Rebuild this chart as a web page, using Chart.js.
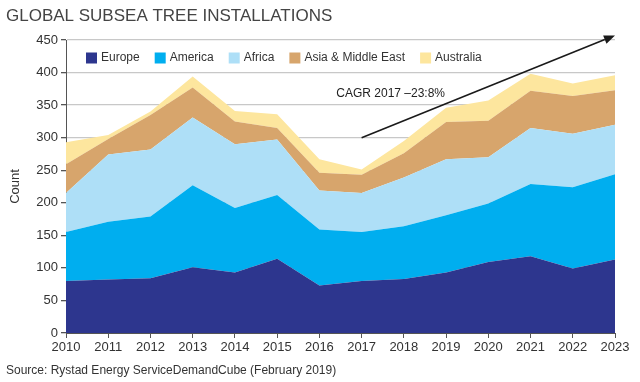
<!DOCTYPE html>
<html>
<head>
<meta charset="utf-8">
<script src="https://cdn.jsdelivr.net/npm/chart.js@4/dist/chart.umd.min.js"></script>
<style>
  html, body { margin: 0; padding: 0; background: #fff; }
  #wrap { width: 640px; height: 382px; }
</style>
</head>
<body>
<div id="wrap"><canvas id="c" width="640" height="382"></canvas></div>
<script>
// ---- data ----
const years = ['2010','2011','2012','2013','2014','2015','2016','2017','2018','2019','2020','2021','2022','2023'];
const europe    = [80, 82, 84, 101, 93, 114, 73, 80, 83, 93, 109, 118, 99, 113];
const america   = [75, 89, 95, 126, 99, 98, 86, 75, 81, 88, 90, 111, 125, 131];
const africa    = [60, 103, 103, 104, 98, 85, 60, 60, 75, 86, 71, 86, 82, 76];
const asiaME    = [44, 24, 53, 46, 35, 18, 27, 28, 37, 57, 56, 57, 58, 53];
const australia = [34, 6, 5, 17, 16, 21, 21, 8, 19, 22, 31, 26, 19, 23];
const seriesNames = ['Europe', 'America', 'Africa', 'Asia & Middle East', 'Australia'];
const yTicks = [0, 50, 100, 150, 200, 250, 300, 350, 400, 450];
const arrowFrom = ['2017', 300];
const arrowTo   = ['2023', 457];
const cagrLabel = 'CAGR 2017 \u201323:8%';
const titleText = 'GLOBAL SUBSEA TREE INSTALLATIONS';
const sourceText = 'Source: Rystad Energy ServiceDemandCube (February 2019)';

const colors = ['#2d368e', '#00aeef', '#aedff7', '#d7a56c', '#fde69e'];
const FONT = '"Liberation Sans", Arial, Helvetica, sans-serif';

const seriesData = [europe, america, africa, asiaME, australia];
const datasets = seriesData.map((d, i) => ({
  label: seriesNames[i],
  data: d,
  backgroundColor: colors[i],
  borderColor: colors[i],
  borderWidth: 0,
  pointRadius: 0,
  pointHoverRadius: 0,
  tension: 0,
  fill: i === 0 ? 'origin' : '-1'
}));

const overlay = {
  id: 'overlay',
  afterDraw(chart) {
    const ctx = chart.ctx;
    const xs = chart.scales.x, ys = chart.scales.y;
    ctx.save();
    // title
    ctx.fillStyle = '#444';
    ctx.font = '17px ' + FONT;
    ctx.textBaseline = 'middle';
    ctx.textAlign = 'left';
    ctx.fillText(titleText, 6, 16);
    // source
    ctx.font = '12px ' + FONT;
    ctx.fillStyle = '#333';
    ctx.fillText(sourceText, 6, 371);
    // legend
    ctx.font = '12px ' + FONT;
    let lx = 86;
    const ly = 58;
    chart.data.datasets.forEach(ds => {
      ctx.fillStyle = ds.backgroundColor;
      ctx.fillRect(lx, ly - 5.5, 11, 11);
      ctx.fillStyle = '#333';
      ctx.fillText(ds.label, lx + 15, ly);
      lx += 15 + ctx.measureText(ds.label).width + 15;
    });
    // arrow
    const x1 = xs.getPixelForValue(years.indexOf(arrowFrom[0]));
    const y1 = ys.getPixelForValue(arrowFrom[1]);
    const x2 = xs.getPixelForValue(years.indexOf(arrowTo[0]));
    const y2 = ys.getPixelForValue(arrowTo[1]);
    const ang = Math.atan2(y2 - y1, x2 - x1);
    const hl = 11, hw = 4.5;
    const bx = x2 - hl * Math.cos(ang), by = y2 - hl * Math.sin(ang);
    ctx.strokeStyle = '#1a1a1a';
    ctx.lineWidth = 1.6;
    ctx.beginPath();
    ctx.moveTo(x1, y1);
    ctx.lineTo(bx, by);
    ctx.stroke();
    ctx.fillStyle = '#1a1a1a';
    ctx.beginPath();
    ctx.moveTo(x2, y2);
    ctx.lineTo(bx + hw * Math.sin(ang), by - hw * Math.cos(ang));
    ctx.lineTo(bx - hw * Math.sin(ang), by + hw * Math.cos(ang));
    ctx.closePath();
    ctx.fill();
    // CAGR label
    ctx.font = '12px ' + FONT;
    ctx.fillStyle = '#222';
    ctx.textAlign = 'left';
    ctx.fillText(cagrLabel, xs.getPixelForValue(6.4), ys.getPixelForValue(367));
    ctx.restore();
  }
};

new Chart(document.getElementById('c'), {
  type: 'line',
  data: { labels: years, datasets },
  options: {
    responsive: false,
    animation: false,
    events: [],
    layout: { padding: { top: 40, left: 0, right: 25, bottom: 0 } },
    plugins: { legend: { display: false }, tooltip: { enabled: false }, title: { display: false } },
    scales: {
      x: {
        offset: false,
        grid: { display: true, drawOnChartArea: false, drawTicks: true, tickLength: 5, tickColor: '#555', lineWidth: 1 },
        border: { display: true, color: '#555', width: 1 },
        ticks: { color: '#333', font: { family: FONT, size: 13 }, padding: 2, maxRotation: 0, autoSkip: false },
        afterFit(s) { s.height = 49; }
      },
      y: {
        stacked: true,
        min: 0, max: 450,
        afterBuildTicks(s) { s.ticks = yTicks.map(v => ({ value: v })); },
        grid: { color: '#c8c8c8', lineWidth: 1.3, tickColor: '#555', tickLength: 5, drawTicks: true },
        border: { display: true, color: '#555', width: 1 },
        ticks: { color: '#333', font: { family: FONT, size: 13 }, padding: 3 },
        title: { display: true, text: 'Count', color: '#333', font: { family: FONT, size: 13 }, padding: { top: 8, bottom: 0 } },
        afterFit(s) { s.width = 66; }
      }
    }
  },
  plugins: [overlay]
});
</script>
</body>
</html>
